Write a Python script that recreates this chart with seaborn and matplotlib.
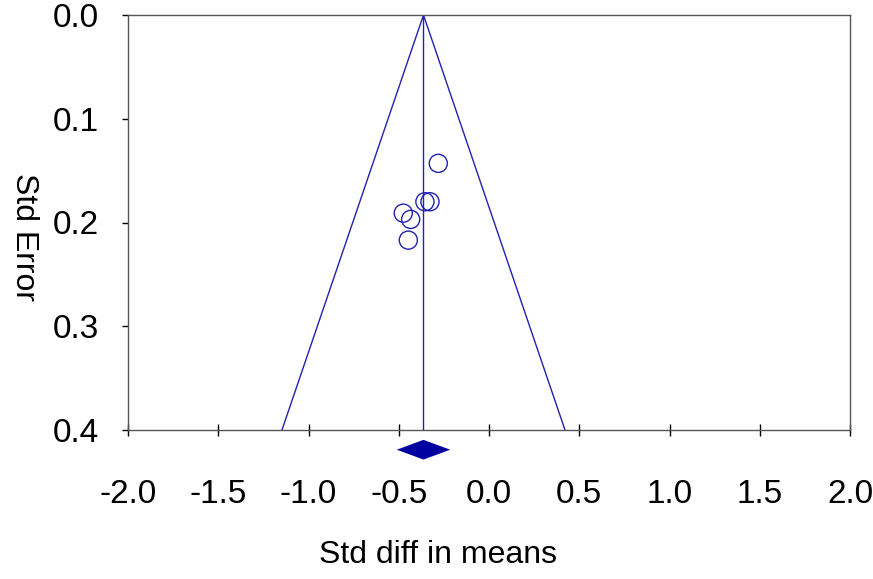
import numpy as np
import pandas as pd
import matplotlib
matplotlib.use("Agg")
import matplotlib.pyplot as plt
import seaborn as sns

# study effects
std_diff = [-0.281, -0.355, -0.327, -0.475, -0.434, -0.447]
std_err = [0.143, 0.180, 0.180, 0.191, 0.197, 0.217]

# pooled estimate and its confidence interval (diamond)
pooled = -0.363
pooled_lo = -0.511
pooled_hi = -0.215

x_ticks = [-2.0, -1.5, -1.0, -0.5, 0.0, 0.5, 1.0, 1.5, 2.0]
y_ticks = [0.0, 0.1, 0.2, 0.3, 0.4]

line_col = "#2222b0"
diamond_col = "#0000a0"

sns.set_theme(style="white")
plt.rcParams['font.family'] = ['Liberation Sans', 'DejaVu Sans']
plt.rcParams['text.color'] = 'black'
plt.rcParams['axes.labelcolor'] = 'black'
plt.rcParams['xtick.color'] = 'black'
plt.rcParams['ytick.color'] = 'black'

fig = plt.figure(figsize=(8.73, 5.79), dpi=100)
ax = fig.add_axes([128 / 873, 1 - 430 / 579, 722 / 873, 415 / 579])

# funnel edges: pooled +/- 1.96 * se
se_max = y_ticks[-1]
funnel = pd.DataFrame({
    "x": [pooled - 1.96 * se_max, pooled, pooled + 1.96 * se_max],
    "y": [se_max, 0.0, se_max],
})
ax.plot(funnel["x"], funnel["y"], color=line_col, lw=1.0)
ax.plot([pooled, pooled], [0.0, se_max], color=line_col, lw=1.0)

pts = pd.DataFrame({"diff": std_diff, "se": std_err})
sns.scatterplot(data=pts, x="diff", y="se", ax=ax, s=170, marker="o",
                facecolor="none", edgecolor=line_col, linewidth=1.0, zorder=3)

# diamond below the axis
dy = 0.0095
dc = 0.419
ax.fill([pooled_lo, pooled, pooled_hi, pooled],
        [dc, dc - dy, dc, dc + dy],
        color=diamond_col, clip_on=False, zorder=4, lw=0)

ax.set_xlim(-2.0, 2.0)
ax.set_ylim(0.4, 0.0)
ax.set_xticks(x_ticks)
ax.set_yticks(y_ticks)
ax.set_xticklabels([f"{v:.1f}" for v in x_ticks])
ax.set_yticklabels([f"{v:.1f}" for v in y_ticks])

for s in ax.spines.values():
    s.set_color("#555555")
    s.set_linewidth(1.0)

ax.tick_params(axis="x", direction="inout", length=8, width=1,
               pad=31, labelsize=24, bottom=True)
ax.tick_params(axis="y", direction="out", length=4, width=1,
               pad=17, labelsize=24, left=True)

ax.set_xlabel("Std diff in means", fontsize=23, va="center")
ax.set_ylabel("Std Error", fontsize=23, rotation=270, va="center")
ax.xaxis.set_label_coords((438 - 128) / 722, -(555 - 430) / 415)
ax.yaxis.set_label_coords(-(128 - 24) / 722, 1 - (237 - 15) / 415)

fig.savefig("out.png", dpi=100)
